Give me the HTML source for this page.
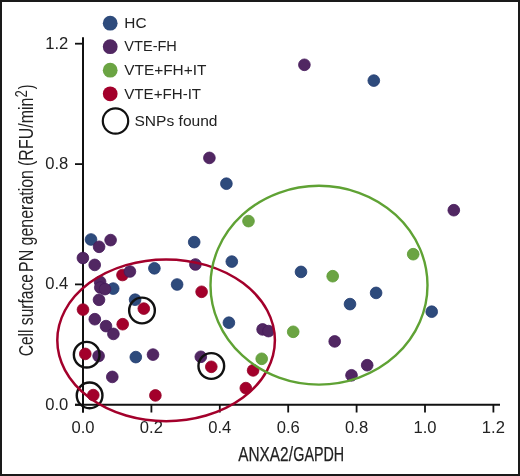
<!DOCTYPE html>
<html><head><meta charset="utf-8"><style>
html,body{margin:0;padding:0;background:#fff;}
.tt{fill:#222;}
.xt{fill:#222;stroke:#222;stroke-width:0.25px;}
.lt{fill:#222;}
svg{display:block;font-family:"Liberation Sans",sans-serif;will-change:transform;}
</style></head><body>
<svg width="520" height="476" viewBox="0 0 520 476">
<rect x="0" y="0" width="520" height="476" fill="#fff"/>
<line x1="83" y1="37.2" x2="83" y2="412.5" stroke="#111" stroke-width="2"/>
<line x1="75" y1="404.8" x2="500" y2="404.8" stroke="#111" stroke-width="2"/>
<line x1="75" y1="404.8" x2="83" y2="404.8" stroke="#111" stroke-width="1.8"/>
<line x1="75" y1="284.4" x2="83" y2="284.4" stroke="#111" stroke-width="1.8"/>
<line x1="75" y1="164.1" x2="83" y2="164.1" stroke="#111" stroke-width="1.8"/>
<line x1="75" y1="43.7" x2="83" y2="43.7" stroke="#111" stroke-width="1.8"/>
<line x1="83.0" y1="404.8" x2="83.0" y2="412.5" stroke="#111" stroke-width="1.8"/>
<line x1="151.4" y1="404.8" x2="151.4" y2="412.5" stroke="#111" stroke-width="1.8"/>
<line x1="219.8" y1="404.8" x2="219.8" y2="412.5" stroke="#111" stroke-width="1.8"/>
<line x1="288.2" y1="404.8" x2="288.2" y2="412.5" stroke="#111" stroke-width="1.8"/>
<line x1="356.6" y1="404.8" x2="356.6" y2="412.5" stroke="#111" stroke-width="1.8"/>
<line x1="425.0" y1="404.8" x2="425.0" y2="412.5" stroke="#111" stroke-width="1.8"/>
<line x1="493.4" y1="404.8" x2="493.4" y2="412.5" stroke="#111" stroke-width="1.8"/>
<text x="68.3" y="409.7" text-anchor="end" font-size="16.6" fill="#222">0.0</text>
<text x="68.3" y="289.3" text-anchor="end" font-size="16.6" fill="#222">0.4</text>
<text x="68.3" y="169.0" text-anchor="end" font-size="16.6" fill="#222">0.8</text>
<text x="68.3" y="48.6" text-anchor="end" font-size="16.6" fill="#222">1.2</text>
<text x="83.0" y="433.2" text-anchor="middle" font-size="16.6" fill="#222">0.0</text>
<text x="151.4" y="433.2" text-anchor="middle" font-size="16.6" fill="#222">0.2</text>
<text x="219.8" y="433.2" text-anchor="middle" font-size="16.6" fill="#222">0.4</text>
<text x="288.2" y="433.2" text-anchor="middle" font-size="16.6" fill="#222">0.6</text>
<text x="356.6" y="433.2" text-anchor="middle" font-size="16.6" fill="#222">0.8</text>
<text x="425.0" y="433.2" text-anchor="middle" font-size="16.6" fill="#222">1.0</text>
<text x="493.4" y="433.2" text-anchor="middle" font-size="16.6" fill="#222">1.2</text>
<text x="238.22" y="461" font-size="20.3" class="xt" textLength="54.71" lengthAdjust="spacingAndGlyphs">ANXA2/</text>
<text x="293.28" y="461" font-size="20.3" class="xt" textLength="50.88" lengthAdjust="spacingAndGlyphs">GAPDH</text>
<text transform="translate(33.4,356.28) rotate(-90)" font-size="20" class="tt" textLength="82.18" lengthAdjust="spacingAndGlyphs">Cell surface</text>
<text transform="translate(33.4,271.98) rotate(-90)" font-size="20" class="tt" textLength="101.98" lengthAdjust="spacingAndGlyphs">PN generation</text>
<text transform="translate(33.4,165.96) rotate(-90)" font-size="20" class="tt" textLength="68.33" lengthAdjust="spacingAndGlyphs">(RFU/min</text>
<text transform="translate(27.0,97.46) rotate(-90)" font-size="16.5" class="tt" textLength="7.33" lengthAdjust="spacingAndGlyphs">2</text>
<text transform="translate(33.4,89.34) rotate(-90)" font-size="20" class="tt" textLength="4.74" lengthAdjust="spacingAndGlyphs">)</text>
<circle cx="110.2" cy="23.2" r="7.4" fill="#2e4b7c"/>
<text x="124.3" y="27.9" font-size="15.4" class="lt" textLength="22.200000000000003" lengthAdjust="spacingAndGlyphs">HC</text>
<circle cx="110.2" cy="46.7" r="7.4" fill="#512762"/>
<text x="124.3" y="51.3" font-size="15.4" class="lt" textLength="52.6" lengthAdjust="spacingAndGlyphs">VTE-FH</text>
<circle cx="110.2" cy="70.2" r="7.4" fill="#6ba443"/>
<text x="124.3" y="74.9" font-size="15.4" class="lt" textLength="82.1" lengthAdjust="spacingAndGlyphs">VTE+FH+IT</text>
<circle cx="110.2" cy="93.8" r="7.4" fill="#a3002b"/>
<text x="124.3" y="98.6" font-size="15.4" class="lt" textLength="76.8" lengthAdjust="spacingAndGlyphs">VTE+FH-IT</text>
<circle cx="115.5" cy="121" r="12.7" fill="none" stroke="#111" stroke-width="2.2"/>
<text x="134.5" y="125.7" font-size="15.4" class="lt" textLength="83" lengthAdjust="spacingAndGlyphs">SNPs found</text>
<circle cx="91.0" cy="239.5" r="5.85" fill="#2e4b7c" stroke="#1f3a70" stroke-width="0.8"/><circle cx="154.4" cy="268.3" r="5.85" fill="#2e4b7c" stroke="#1f3a70" stroke-width="0.8"/><circle cx="113.2" cy="288.6" r="5.85" fill="#2e4b7c" stroke="#1f3a70" stroke-width="0.8"/><circle cx="135.1" cy="299.7" r="5.85" fill="#2e4b7c" stroke="#1f3a70" stroke-width="0.8"/><circle cx="135.8" cy="357.1" r="5.85" fill="#2e4b7c" stroke="#1f3a70" stroke-width="0.8"/><circle cx="194.2" cy="242.1" r="5.85" fill="#2e4b7c" stroke="#1f3a70" stroke-width="0.8"/><circle cx="231.8" cy="261.6" r="5.85" fill="#2e4b7c" stroke="#1f3a70" stroke-width="0.8"/><circle cx="177.1" cy="284.5" r="5.85" fill="#2e4b7c" stroke="#1f3a70" stroke-width="0.8"/><circle cx="228.9" cy="322.7" r="5.85" fill="#2e4b7c" stroke="#1f3a70" stroke-width="0.8"/><circle cx="226.4" cy="183.7" r="5.85" fill="#2e4b7c" stroke="#1f3a70" stroke-width="0.8"/><circle cx="373.8" cy="80.6" r="5.85" fill="#2e4b7c" stroke="#1f3a70" stroke-width="0.8"/><circle cx="301" cy="271.9" r="5.85" fill="#2e4b7c" stroke="#1f3a70" stroke-width="0.8"/><circle cx="350" cy="304.1" r="5.85" fill="#2e4b7c" stroke="#1f3a70" stroke-width="0.8"/><circle cx="376.1" cy="292.9" r="5.85" fill="#2e4b7c" stroke="#1f3a70" stroke-width="0.8"/><circle cx="431.7" cy="311.7" r="5.85" fill="#2e4b7c" stroke="#1f3a70" stroke-width="0.8"/>
<circle cx="122.5" cy="275" r="5.85" fill="#a3002b" stroke="#930026" stroke-width="0.8"/><circle cx="143.8" cy="308.6" r="5.85" fill="#a3002b" stroke="#930026" stroke-width="0.8"/><circle cx="83" cy="309.6" r="5.85" fill="#a3002b" stroke="#930026" stroke-width="0.8"/><circle cx="122.7" cy="324.2" r="5.85" fill="#a3002b" stroke="#930026" stroke-width="0.8"/><circle cx="85.3" cy="353.9" r="5.85" fill="#a3002b" stroke="#930026" stroke-width="0.8"/><circle cx="93.3" cy="395.1" r="5.85" fill="#a3002b" stroke="#930026" stroke-width="0.8"/><circle cx="155.4" cy="395.4" r="5.85" fill="#a3002b" stroke="#930026" stroke-width="0.8"/><circle cx="201.6" cy="291.8" r="5.85" fill="#a3002b" stroke="#930026" stroke-width="0.8"/><circle cx="253.1" cy="370.4" r="5.85" fill="#a3002b" stroke="#930026" stroke-width="0.8"/><circle cx="211.3" cy="366.8" r="5.85" fill="#a3002b" stroke="#930026" stroke-width="0.8"/><circle cx="245.8" cy="388.1" r="5.85" fill="#a3002b" stroke="#930026" stroke-width="0.8"/>
<circle cx="110.6" cy="240.1" r="5.85" fill="#512762" stroke="#45195a" stroke-width="0.8"/><circle cx="99.1" cy="246.8" r="5.85" fill="#512762" stroke="#45195a" stroke-width="0.8"/><circle cx="82.9" cy="258" r="5.85" fill="#512762" stroke="#45195a" stroke-width="0.8"/><circle cx="94.7" cy="264.9" r="5.85" fill="#512762" stroke="#45195a" stroke-width="0.8"/><circle cx="129.9" cy="271.5" r="5.85" fill="#512762" stroke="#45195a" stroke-width="0.8"/><circle cx="100.1" cy="281.9" r="5.85" fill="#512762" stroke="#45195a" stroke-width="0.8"/><circle cx="100.3" cy="287.5" r="5.85" fill="#512762" stroke="#45195a" stroke-width="0.8"/><circle cx="105" cy="289.1" r="5.85" fill="#512762" stroke="#45195a" stroke-width="0.8"/><circle cx="99" cy="299.8" r="5.85" fill="#512762" stroke="#45195a" stroke-width="0.8"/><circle cx="94.8" cy="319.2" r="5.85" fill="#512762" stroke="#45195a" stroke-width="0.8"/><circle cx="106" cy="326.1" r="5.85" fill="#512762" stroke="#45195a" stroke-width="0.8"/><circle cx="113.4" cy="333.9" r="5.85" fill="#512762" stroke="#45195a" stroke-width="0.8"/><circle cx="98.6" cy="356" r="5.85" fill="#512762" stroke="#45195a" stroke-width="0.8"/><circle cx="153" cy="354.6" r="5.85" fill="#512762" stroke="#45195a" stroke-width="0.8"/><circle cx="112.3" cy="376.9" r="5.85" fill="#512762" stroke="#45195a" stroke-width="0.8"/><circle cx="195.4" cy="264.5" r="5.85" fill="#512762" stroke="#45195a" stroke-width="0.8"/><circle cx="209.4" cy="157.9" r="5.85" fill="#512762" stroke="#45195a" stroke-width="0.8"/><circle cx="304.4" cy="64.8" r="5.85" fill="#512762" stroke="#45195a" stroke-width="0.8"/><circle cx="453.8" cy="210.2" r="5.85" fill="#512762" stroke="#45195a" stroke-width="0.8"/><circle cx="262.6" cy="329.4" r="5.85" fill="#512762" stroke="#45195a" stroke-width="0.8"/><circle cx="268.5" cy="331.1" r="5.85" fill="#512762" stroke="#45195a" stroke-width="0.8"/><circle cx="334.7" cy="341.4" r="5.85" fill="#512762" stroke="#45195a" stroke-width="0.8"/><circle cx="367.2" cy="365.2" r="5.85" fill="#512762" stroke="#45195a" stroke-width="0.8"/><circle cx="351.5" cy="375.3" r="5.85" fill="#512762" stroke="#45195a" stroke-width="0.8"/><circle cx="200.8" cy="356.8" r="5.85" fill="#512762" stroke="#45195a" stroke-width="0.8"/>
<circle cx="248.5" cy="221.1" r="5.85" fill="#6ba443" stroke="#5b9a32" stroke-width="0.8"/><circle cx="332.7" cy="276.2" r="5.85" fill="#6ba443" stroke="#5b9a32" stroke-width="0.8"/><circle cx="413.2" cy="254.2" r="5.85" fill="#6ba443" stroke="#5b9a32" stroke-width="0.8"/><circle cx="293.2" cy="331.8" r="5.85" fill="#6ba443" stroke="#5b9a32" stroke-width="0.8"/><circle cx="261.7" cy="358.8" r="5.85" fill="#6ba443" stroke="#5b9a32" stroke-width="0.8"/>
<circle cx="142" cy="310.5" r="12.85" fill="none" stroke="#111" stroke-width="2.4"/>
<circle cx="86.7" cy="354.7" r="12.85" fill="none" stroke="#111" stroke-width="2.4"/>
<circle cx="89.6" cy="395.4" r="12.85" fill="none" stroke="#111" stroke-width="2.4"/>
<circle cx="211.3" cy="366" r="12.85" fill="none" stroke="#111" stroke-width="2.4"/>
<rect x="1" y="1" width="518" height="474" fill="none" stroke="#1a1a1a" stroke-width="2"/>
<ellipse cx="166.1" cy="340.3" rx="108.8" ry="80.9" fill="none" stroke="#a3002b" stroke-width="2.5"/>
<ellipse cx="319" cy="285.2" rx="108.5" ry="99.4" fill="none" stroke="#5fa234" stroke-width="2.4"/>
</svg></body></html>
